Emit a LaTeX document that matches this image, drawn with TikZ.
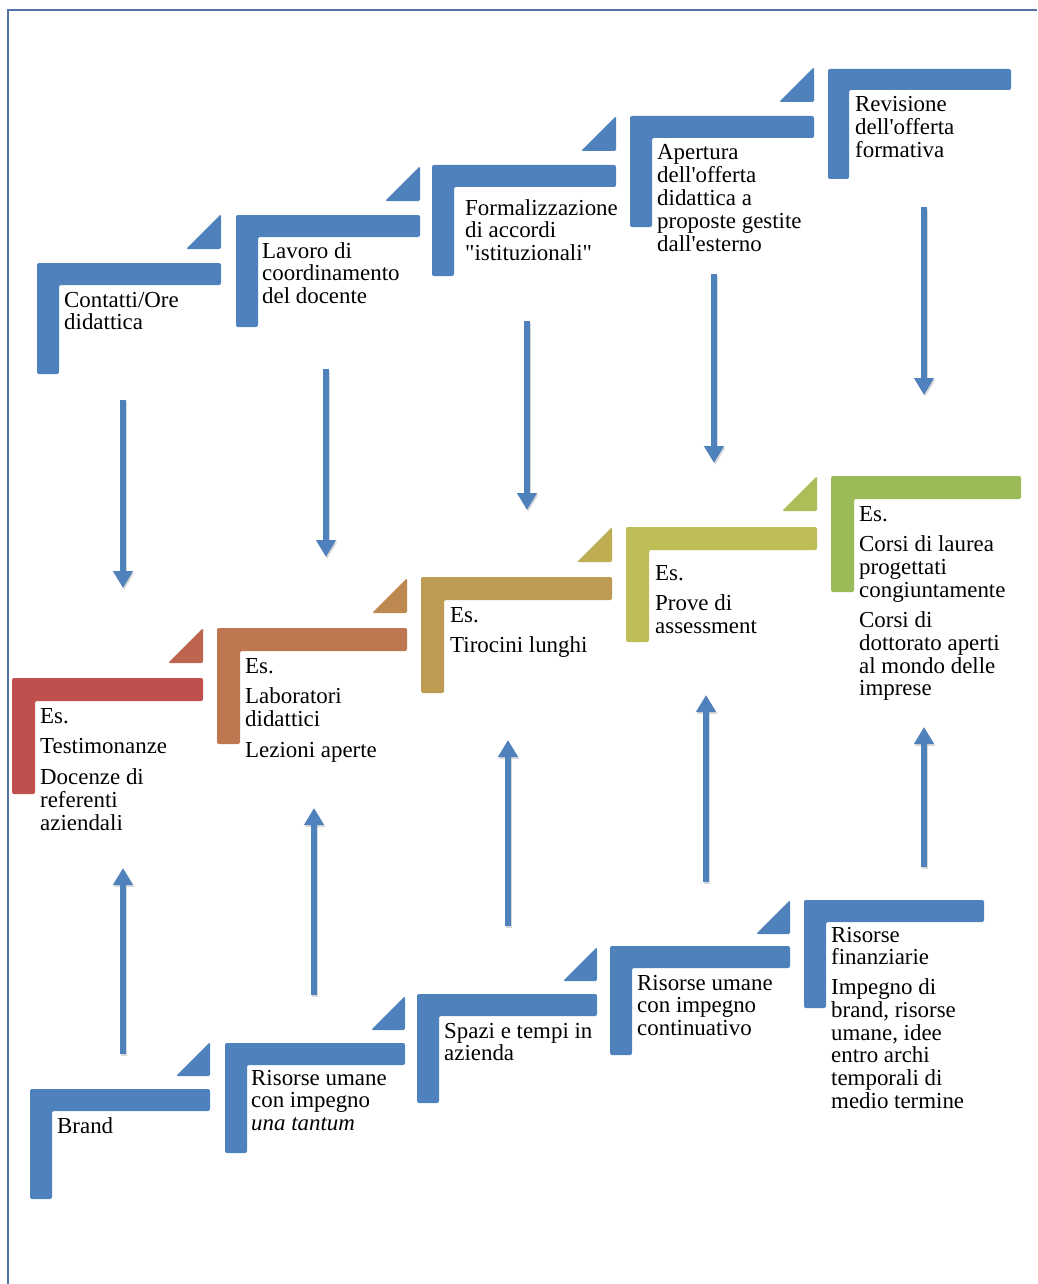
\documentclass[tikz,border=0pt]{standalone}
\usepackage{fontspec}
\setmainfont{Liberation Serif}[Ligatures=TeXOff]
\usetikzlibrary{arrows.meta}
\definecolor{sblue}{RGB}{79,129,189}
\definecolor{cA}{RGB}{192,80,77}
\definecolor{cAt}{RGB}{190,101,80}
\definecolor{cB}{RGB}{190,119,80}
\definecolor{cBt}{RGB}{190,137,80}
\definecolor{cC}{RGB}{190,155,82}
\definecolor{cCt}{RGB}{190,173,82}
\definecolor{cD}{RGB}{189,190,85}
\definecolor{cDt}{RGB}{171,190,87}
\definecolor{cE}{RGB}{155,187,89}
\definecolor{framec}{RGB}{84,115,165}
% L-shaped step: colour, x0, y0, x1, ybottom, thickness
\newcommand\StepL[6]{\fill[#1, rounded corners=2pt] (#2,#3) -- (#4,#3) -- (#4,#3+#6) -- (#2+#6,#3+#6) -- (#2+#6,#5) -- (#2,#5) -- cycle;}
% small triangle: colour, xright, ytop, size
\newcommand\StepT[4]{\fill[#1, rounded corners=1.5pt] (#2,#3) -- (#2,#3+#4) -- (#2-#4,#3+#4) -- cycle;}
\newcommand\txtlines[1]{\begin{tabular}[t]{@{}l@{}}#1\end{tabular}}
\begin{document}
\begin{tikzpicture}[x=1pt,y=-1pt,
  txt/.style={font=\fontsize{22.9}{22.7}\selectfont, inner sep=0pt, anchor=base west, text=black},
  arr/.style={draw=sblue, line width=6pt, -{Triangle[width=19pt,length=17pt]}},
  arrshadow/.style={draw=black, opacity=0.15, line width=6pt, -{Triangle[width=19pt,length=17pt]}}]
\useasboundingbox (0,0) rectangle (1037,1284);
\fill[white] (0,0) rectangle (1037,1284);
\draw[framec, line width=1.2pt] (8,1284) -- (8,10) -- (1037,10);

% ---- top row (blue)
\StepL{sblue}{37}{263}{221}{374}{22} \StepT{sblue}{221}{214}{35}
\StepL{sblue}{236}{215}{420}{327}{22} \StepT{sblue}{420}{166}{35}
\StepL{sblue}{432}{165}{616}{276}{22} \StepT{sblue}{616}{116}{35}
\StepL{sblue}{630}{116}{814}{227}{22} \StepT{sblue}{814}{67}{35}
\StepL{sblue}{828}{69}{1011}{179}{21}

% ---- middle row (coloured)
\StepL{cA}{12}{678}{203}{794}{23} \StepT{cAt}{203}{628}{35}
\StepL{cB}{217}{628}{407}{744}{23} \StepT{cBt}{407}{578}{35}
\StepL{cC}{421}{577}{612}{693}{23} \StepT{cCt}{612}{527}{35}
\StepL{cD}{626}{527}{817}{642}{23} \StepT{cDt}{817}{476}{35}
\StepL{cE}{831}{476}{1021}{592}{23}

% ---- bottom row (blue)
\StepL{sblue}{30}{1089}{210}{1199}{22} \StepT{sblue}{210}{1042}{34}
\StepL{sblue}{225}{1043}{405}{1153}{22} \StepT{sblue}{405}{996}{34}
\StepL{sblue}{417}{994}{597}{1103}{22} \StepT{sblue}{597}{947}{34}
\StepL{sblue}{610}{946}{790}{1055}{22} \StepT{sblue}{790}{900}{34}
\StepL{sblue}{804}{900}{984}{1008}{22}

% ---- texts top row
\node[txt] (t1) at (64,307) {\txtlines{Contatti/Ore\\didattica}};
\node[txt] (t2) at (262,258) {\txtlines{Lavoro di\\coordinamento\\del docente}};
\node[txt] (t3) at (465,215) {\txtlines{Formalizzazione\\di accordi\\"istituzionali"}};
\node[txt] (t4) at (657,160) {\txtlines{Apertura\\dell'offerta\\didattica a\\proposte gestite\\dall'esterno}};
\node[txt] (t5) at (855,112) {\txtlines{Revisione\\dell'offerta\\formativa}};

% ---- texts middle row
\node[txt] (m1) at (40,723) {\txtlines{Es.\\[8pt]Testimonanze\\[8pt]Docenze di\\referenti\\aziendali}};
\node[txt] (m2) at (245,673) {\txtlines{Es.\\[8pt]Laboratori\\didattici\\[8pt]Lezioni aperte}};
\node[txt] (m3) at (450,622) {\txtlines{Es.\\[8pt]Tirocini lunghi}};
\node[txt] (m4) at (655,580) {\txtlines{Es.\\[8pt]Prove di\\assessment}};
\node[txt] (m5) at (859,521) {\txtlines{Es.\\[8pt]Corsi di laurea\\progettati\\congiuntamente\\[8pt]Corsi di\\dottorato aperti\\al mondo delle\\imprese}};

% ---- texts bottom row
\node[txt] (b1) at (57,1133) {\txtlines{Brand}};
\node[txt] (b2) at (251,1085) {\txtlines{Risorse umane\\con impegno\\\textit{una tantum}}};
\node[txt] (b3) at (444,1038) {\txtlines{Spazi e tempi in\\azienda}};
\node[txt] (b4) at (637,990) {\txtlines{Risorse umane\\con impegno\\continuativo}};
\node[txt] (b5) at (831,942) {\txtlines{Risorse\\finanziarie\\[7pt]Impegno di\\brand, risorse\\umane, idee\\entro archi\\temporali di\\medio termine}};

% ---- arrow end points
\coordinate (d1s) at (123,400);  \coordinate (d1e) at (123,588);
\coordinate (d2s) at (326,369);  \coordinate (d2e) at (326,557);
\coordinate (d3s) at (527,321);  \coordinate (d3e) at (527,510);
\coordinate (d4s) at (714,274);  \coordinate (d4e) at (714,463);
\coordinate (d5s) at (924,207);  \coordinate (d5e) at (924,395);
\coordinate (u1s) at (123,1054); \coordinate (u1e) at (123,868);
\coordinate (u2s) at (314,995);  \coordinate (u2e) at (314,808);
\coordinate (u3s) at (508,926);  \coordinate (u3e) at (508,740);
\coordinate (u4s) at (706,882);  \coordinate (u4e) at (706,695);
\coordinate (u5s) at (924,867);  \coordinate (u5e) at (924,727);

\foreach \a in {d1,d2,d3,d4,d5,u1,u2,u3,u4,u5}{
  \draw[arrshadow, transform canvas={shift={(1.2pt,-1.8pt)}}] (\a s) -- (\a e);
}
\foreach \a in {d1,d2,d3,d4,d5,u1,u2,u3,u4,u5}{
  \draw[arr] (\a s) -- (\a e);
}
\end{tikzpicture}
\end{document}
